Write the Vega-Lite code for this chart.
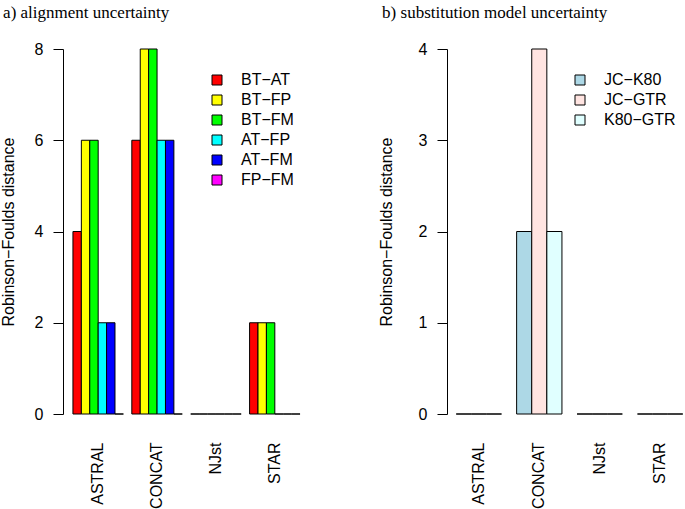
{
  "$schema": "https://vega.github.io/schema/vega-lite/v6.json",
  "padding": {"left": 0, "top": 4, "right": 0, "bottom": 0},
  "background": "white",
  "spacing": 75,
  "resolve": {
    "scale": {"x": "independent", "y": "independent", "xOffset": "independent", "color": "independent"},
    "legend": {"color": "independent"}
  },
  "config": {
    "view": {"stroke": null},
    "axis": {
      "labelFont": "Liberation Sans", "labelFontSize": 16, "labelColor": "black",
      "titleFont": "Liberation Sans", "titleFontSize": 16, "titleFontWeight": "normal", "titleColor": "black",
      "domainColor": "black", "tickColor": "black", "domainWidth": 1, "tickWidth": 1, "grid": false
    },
    "legend": {
      "labelFont": "Liberation Sans", "labelFontSize": 16, "labelColor": "black",
      "symbolType": "square", "symbolSize": 100, "symbolStrokeColor": "black", "symbolStrokeWidth": 1,
      "symbolOpacity": 1, "rowPadding": 4, "labelOffset": 16, "padding": 0
    },
    "title": {"font": "Liberation Serif", "fontSize": 17, "fontWeight": "normal", "color": "black", "anchor": "start", "frame": "bounds"}
  },
  "hconcat": [
    {
      "title": {"text": "a) alignment uncertainty", "offset": 19, "dx": 3},
      "width": 233,
      "height": 365,
      "data": {"values": [
        {"method": "ASTRAL", "pair": "BT−AT", "rf": 4},
        {"method": "ASTRAL", "pair": "BT−FP", "rf": 6},
        {"method": "ASTRAL", "pair": "BT−FM", "rf": 6},
        {"method": "ASTRAL", "pair": "AT−FP", "rf": 2},
        {"method": "ASTRAL", "pair": "AT−FM", "rf": 2},
        {"method": "ASTRAL", "pair": "FP−FM", "rf": 0},
        {"method": "CONCAT", "pair": "BT−AT", "rf": 6},
        {"method": "CONCAT", "pair": "BT−FP", "rf": 8},
        {"method": "CONCAT", "pair": "BT−FM", "rf": 8},
        {"method": "CONCAT", "pair": "AT−FP", "rf": 6},
        {"method": "CONCAT", "pair": "AT−FM", "rf": 6},
        {"method": "CONCAT", "pair": "FP−FM", "rf": 0},
        {"method": "NJst", "pair": "BT−AT", "rf": 0},
        {"method": "NJst", "pair": "BT−FP", "rf": 0},
        {"method": "NJst", "pair": "BT−FM", "rf": 0},
        {"method": "NJst", "pair": "AT−FP", "rf": 0},
        {"method": "NJst", "pair": "AT−FM", "rf": 0},
        {"method": "NJst", "pair": "FP−FM", "rf": 0},
        {"method": "STAR", "pair": "BT−AT", "rf": 2},
        {"method": "STAR", "pair": "BT−FP", "rf": 2},
        {"method": "STAR", "pair": "BT−FM", "rf": 2},
        {"method": "STAR", "pair": "AT−FP", "rf": 0},
        {"method": "STAR", "pair": "AT−FM", "rf": 0},
        {"method": "STAR", "pair": "FP−FM", "rf": 0}
      ]},
      "mark": {"type": "bar", "stroke": "black", "strokeWidth": 1},
      "encoding": {
        "x": {
          "field": "method", "type": "nominal", "sort": ["ASTRAL", "CONCAT", "NJst", "STAR"],
          "scale": {"paddingInner": 0.143, "paddingOuter": 0.05},
          "axis": {"title": null, "labelAngle": -90, "ticks": false, "domain": false, "labelPadding": 28}
        },
        "xOffset": {
          "field": "pair", "type": "nominal", "sort": ["BT−AT", "BT−FP", "BT−FM", "AT−FP", "AT−FM", "FP−FM"],
          "scale": {"paddingInner": 0, "paddingOuter": 0}
        },
        "y": {
          "field": "rf", "type": "quantitative",
          "scale": {"domain": [0, 8], "nice": false},
          "axis": {"title": "Robinson−Foulds distance", "values": [0, 2, 4, 6, 8], "offset": 7, "tickSize": 10, "labelPadding": 10, "titlePadding": 18}
        },
        "color": {
          "field": "pair", "type": "nominal",
          "scale": {"domain": ["BT−AT", "BT−FP", "BT−FM", "AT−FP", "AT−FM", "FP−FM"], "range": ["#FF0000", "#FFFF00", "#00FF00", "#00FFFF", "#0000FF", "#FF00FF"]},
          "legend": {"title": null, "orient": "none", "legendX": 139, "legendY": 23}
        }
      }
    },
    {
      "title": {"text": "b) substitution model uncertainty", "offset": 19, "dx": 4},
      "width": 229,
      "height": 365,
      "data": {"values": [
        {"method": "ASTRAL", "pair": "JC−K80", "rf": 0},
        {"method": "ASTRAL", "pair": "JC−GTR", "rf": 0},
        {"method": "ASTRAL", "pair": "K80−GTR", "rf": 0},
        {"method": "CONCAT", "pair": "JC−K80", "rf": 2},
        {"method": "CONCAT", "pair": "JC−GTR", "rf": 4},
        {"method": "CONCAT", "pair": "K80−GTR", "rf": 2},
        {"method": "NJst", "pair": "JC−K80", "rf": 0},
        {"method": "NJst", "pair": "JC−GTR", "rf": 0},
        {"method": "NJst", "pair": "K80−GTR", "rf": 0},
        {"method": "STAR", "pair": "JC−K80", "rf": 0},
        {"method": "STAR", "pair": "JC−GTR", "rf": 0},
        {"method": "STAR", "pair": "K80−GTR", "rf": 0}
      ]},
      "mark": {"type": "bar", "stroke": "black", "strokeWidth": 1},
      "encoding": {
        "x": {
          "field": "method", "type": "nominal", "sort": ["ASTRAL", "CONCAT", "NJst", "STAR"],
          "scale": {"paddingInner": 0.25, "paddingOuter": 0.02},
          "axis": {"title": null, "labelAngle": -90, "ticks": false, "domain": false, "labelPadding": 28}
        },
        "xOffset": {
          "field": "pair", "type": "nominal", "sort": ["JC−K80", "JC−GTR", "K80−GTR"],
          "scale": {"paddingInner": 0, "paddingOuter": 0}
        },
        "y": {
          "field": "rf", "type": "quantitative",
          "scale": {"domain": [0, 4], "nice": false},
          "axis": {"title": "Robinson−Foulds distance", "values": [0, 1, 2, 3, 4], "offset": 8, "tickSize": 10, "labelPadding": 10, "titlePadding": 24}
        },
        "color": {
          "field": "pair", "type": "nominal",
          "scale": {"domain": ["JC−K80", "JC−GTR", "K80−GTR"], "range": ["#ADD8E6", "#FFE4E1", "#E0FFFF"]},
          "legend": {"title": null, "orient": "none", "legendX": 117, "legendY": 23}
        }
      }
    }
  ]
}
